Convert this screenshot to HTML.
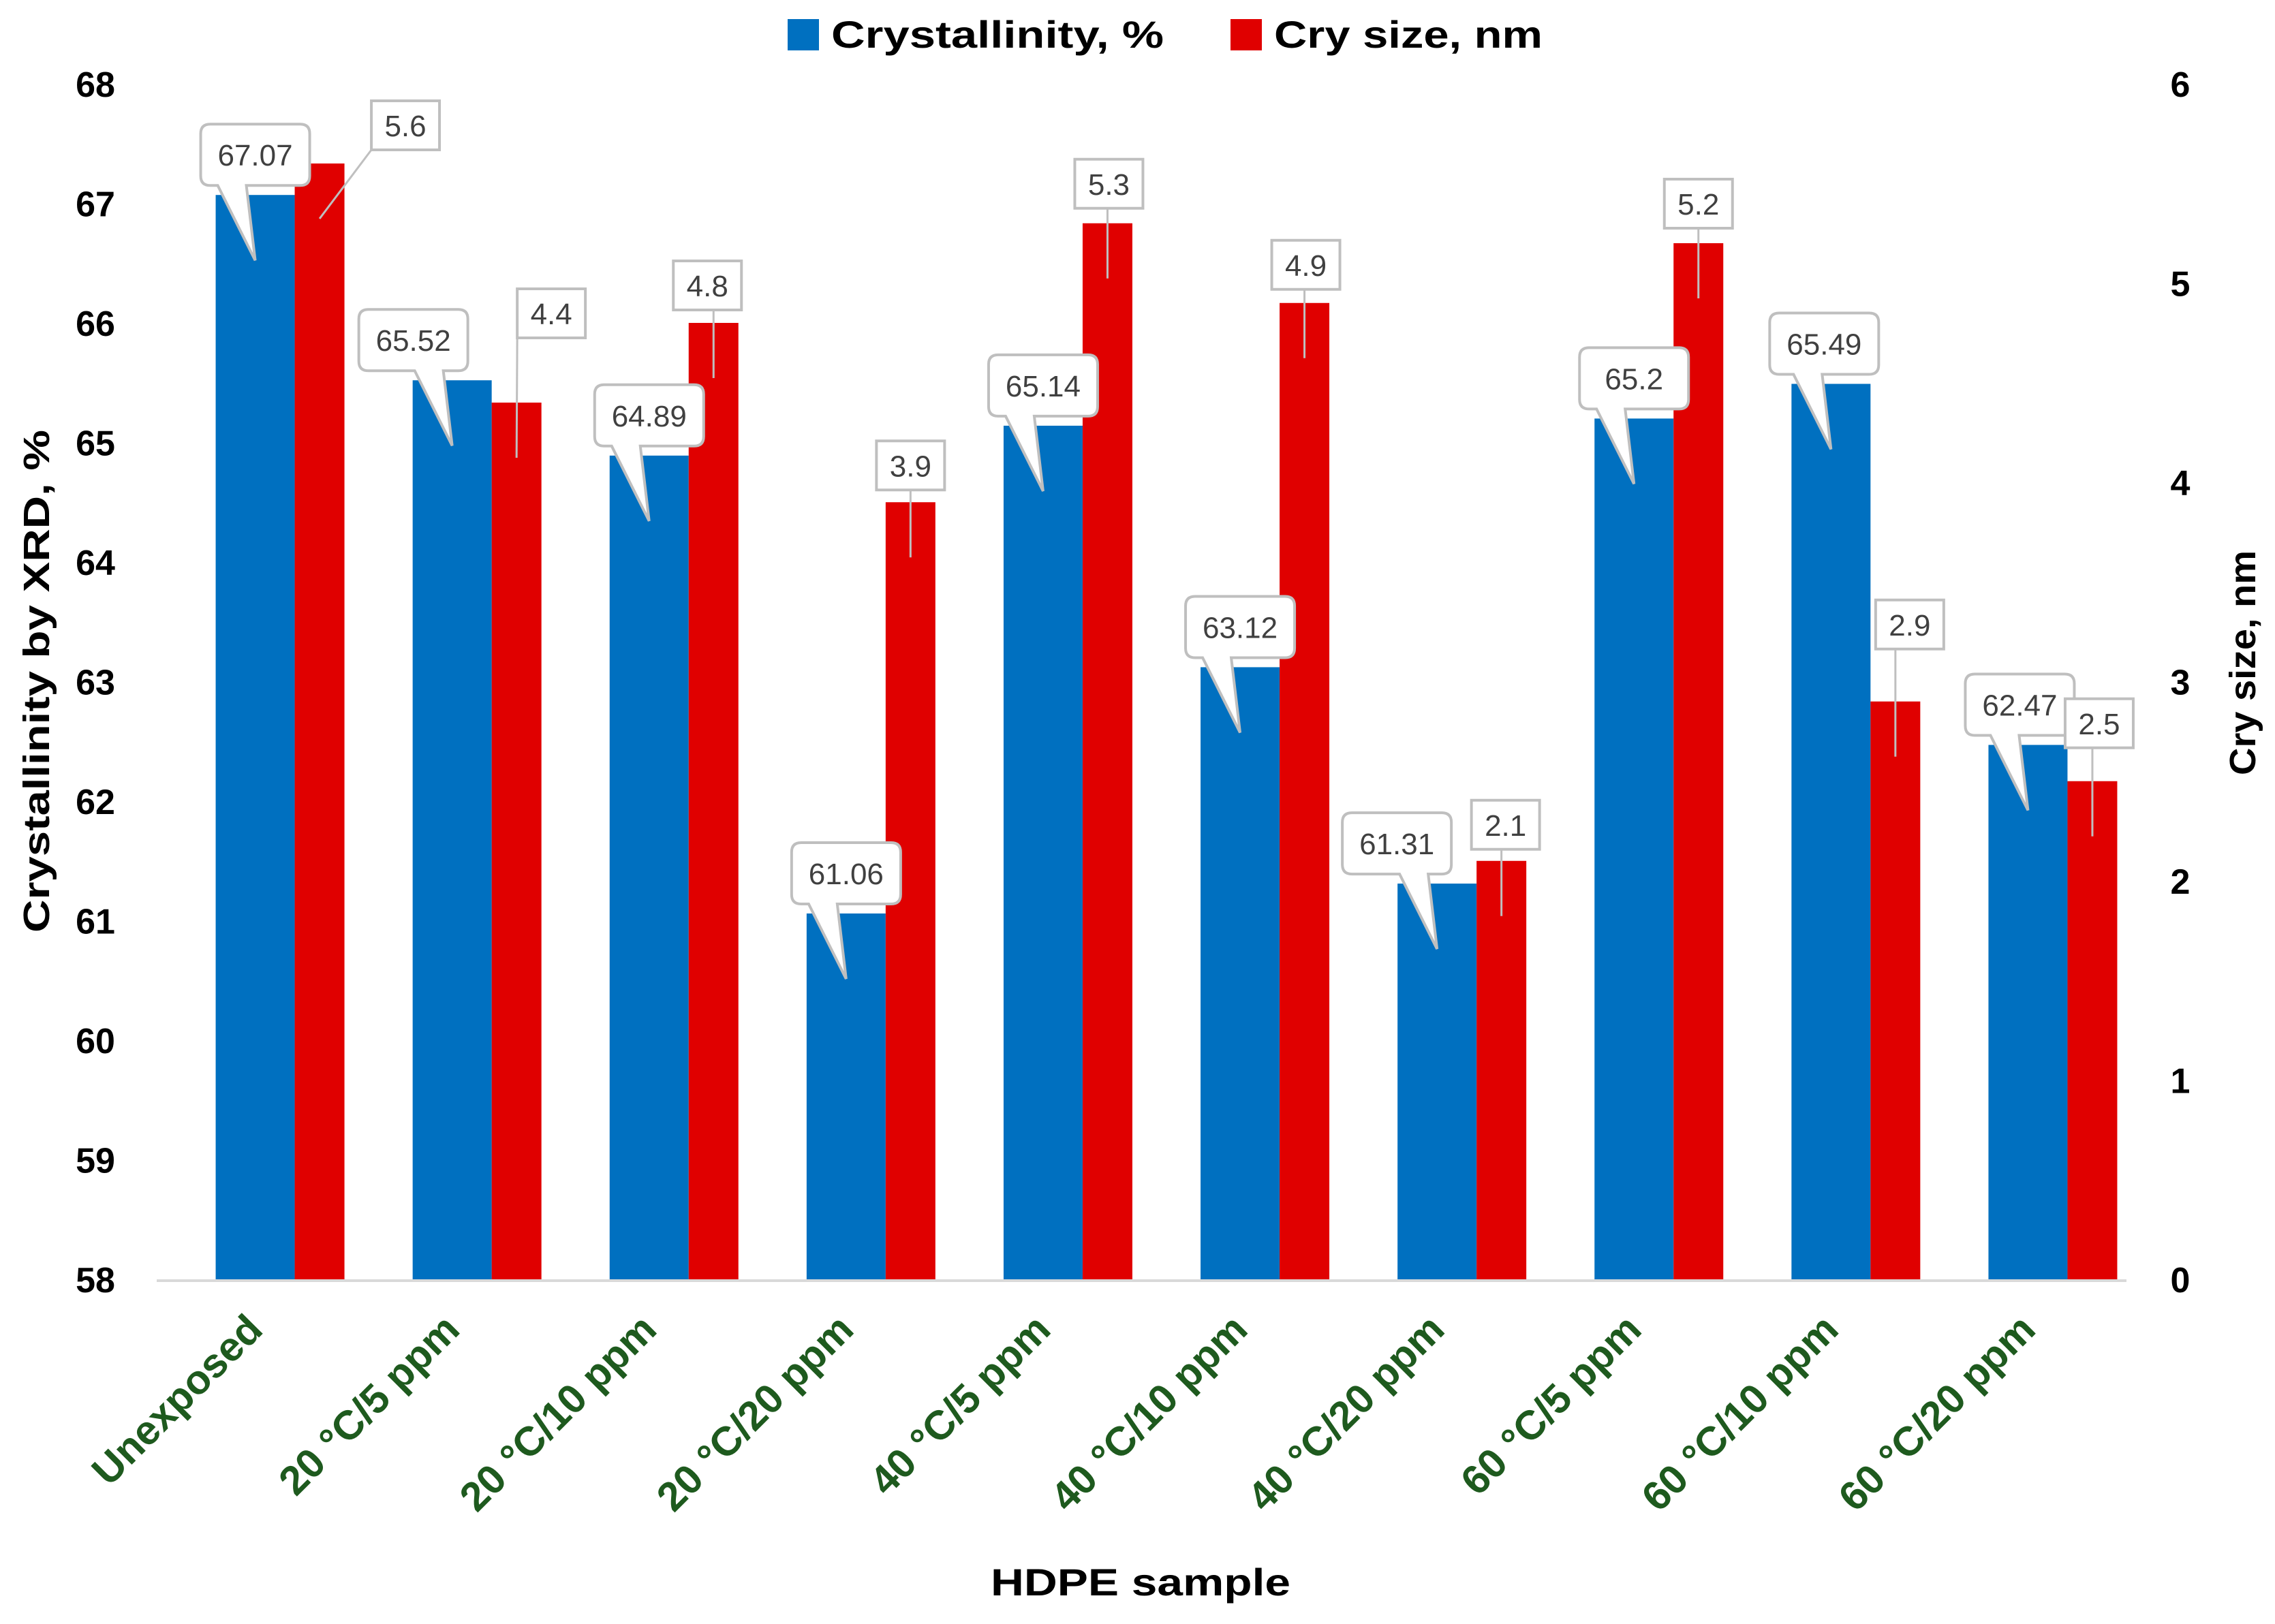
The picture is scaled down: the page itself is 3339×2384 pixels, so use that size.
<!DOCTYPE html>
<html><head><meta charset="utf-8"><style>
html,body{margin:0;padding:0;background:#fff;}
svg{display:block;font-family:"Liberation Sans",sans-serif;}
</style></head><body>
<svg id="chart" width="3339" height="2384" viewBox="0 0 3339 2384" xmlns="http://www.w3.org/2000/svg">
<g id="legend">
<rect x="1156" y="28" width="46" height="46" fill="#0070C0"/>
<text x="1220" y="70" font-size="56" font-weight="bold" textLength="488" lengthAdjust="spacingAndGlyphs">Crystallinity, %</text>
<rect x="1806" y="28" width="46" height="46" fill="#E00000"/>
<text x="1870" y="70" font-size="56" font-weight="bold" textLength="394" lengthAdjust="spacingAndGlyphs">Cry size, nm</text>
</g>
<text transform="translate(72,1000) rotate(-90)" text-anchor="middle" font-size="54" font-weight="bold" textLength="738" lengthAdjust="spacingAndGlyphs">Crystallinity by XRD, %</text>
<text transform="translate(3310,973) rotate(-90)" text-anchor="middle" font-size="54" font-weight="bold" textLength="330" lengthAdjust="spacingAndGlyphs">Cry size, nm</text>
<text x="1674" y="2342" text-anchor="middle" font-size="56" font-weight="bold" textLength="440" lengthAdjust="spacingAndGlyphs">HDPE sample</text>
<g id="plot"></g>
</svg>
<script>
const categories = ["Unexposed","20 °C/5 ppm","20 °C/10 ppm","20 °C/20 ppm","40 °C/5 ppm","40 °C/10 ppm","40 °C/20 ppm","60 °C/5 ppm","60 °C/10 ppm","60 °C/20 ppm"];
const crystallinity = [67.07,65.52,64.89,61.06,65.14,63.12,61.31,65.2,65.49,62.47];
const crySize = [5.6,4.4,4.8,3.9,5.3,4.9,2.1,5.2,2.9,2.5];
const leftTicks = [58,59,60,61,62,63,64,65,66,67,68];
const rightTicks = [0,1,2,3,4,5,6];
// label offsets (layout, not data)
const blueDx = [0,-57,0,0,0,0,-59,0,-10,-12];
const redDx = [126,51,-9,0,2,2,6,0,21,10];
const redDy = [56,131,55,54,58,56,53,58,113,85];

const NS = "http://www.w3.org/2000/svg";
const plot = document.getElementById('plot');
const X0 = 230, X1 = 3121, YB = 1878, YT = 123;
const step = (X1 - X0) / categories.length;
function yL(v){ return YB - (v - 58) / (68 - 58) * (YB - YT); }
function yR(v){ return YB - v / 6 * (YB - YT); }
function xC(i){ return X0 + step * (i + 0.5); }
function mk(tag, attrs){ const e = document.createElementNS(NS, tag); for (const k in attrs) e.setAttribute(k, attrs[k]); plot.appendChild(e); return e; }

leftTicks.forEach(t => {
  const e = mk('text', {x:140, y:yL(t)+19, 'text-anchor':'middle', 'font-size':52, 'font-weight':'bold'});
  e.textContent = t;
  
  
});
rightTicks.forEach(t => {
  const e = mk('text', {x:3200, y:yR(t)+19, 'text-anchor':'middle', 'font-size':52, 'font-weight':'bold'});
  e.textContent = t;
  
  
});

categories.forEach((c, i) => {
  const cx = xC(i);
  const bt = yL(crystallinity[i]);
  const b = mk('rect', {x:cx-58, y:bt, width:116, height:YB-bt, fill:'#0070C0'});
  
  
  const rt = yR(crySize[i]);
  const r = mk('rect', {x:cx+58, y:rt, width:73, height:YB-rt, fill:'#E00000'});
  
  
  const t = mk('text', {transform:`translate(${cx+14},1955) rotate(-45)`, 'text-anchor':'end', 'font-size':60, 'font-weight':'bold', fill:'#1E5A1E'});
  t.textContent = c;
  
  
});

const axis = mk('line', {x1:X0, y1:YB+2, x2:X1, y2:YB+2, stroke:'#D9D9D9', 'stroke-width':4});



categories.forEach((c, i) => {
  const bx = xC(i), bt = yL(crystallinity[i]);
  const bcx = bx + blueDx[i], bBot = bt - 14, w = 160, h = 90;
  const tipX = bx, tipY = bt + 96;
  const g = mk('g', {});
  
  
  const bl = Math.max(bcx - w/2 + 14, Math.min(tipX - 55, bcx + w/2 - 56));
  const d = `M${bcx-w/2+14},${bBot-h} H${bcx+w/2-14} Q${bcx+w/2},${bBot-h} ${bcx+w/2},${bBot-h+14} V${bBot-14} Q${bcx+w/2},${bBot} ${bcx+w/2-14},${bBot} H${bl+42} L${tipX},${tipY} L${bl},${bBot} H${bcx-w/2+14} Q${bcx-w/2},${bBot} ${bcx-w/2},${bBot-14} V${bBot-h+14} Q${bcx-w/2},${bBot-h} ${bcx-w/2+14},${bBot-h} Z`;
  const p = document.createElementNS(NS,'path');
  p.setAttribute('d', d); p.setAttribute('fill','#fff'); p.setAttribute('stroke','#BFBFBF'); p.setAttribute('stroke-width','4');
  g.appendChild(p);
  const tx = document.createElementNS(NS,'text');
  tx.setAttribute('x', bcx); tx.setAttribute('y', bBot - h/2 + 16); tx.setAttribute('text-anchor','middle');
  tx.setAttribute('font-size','44'); tx.setAttribute('fill','#404040');
  tx.textContent = crystallinity[i].toString();
  g.appendChild(tx);

  const rx = xC(i) + 94.5, rt = yR(crySize[i]);
  const rcx = rx + redDx[i], rcy = rt - redDy[i], rw = 100, rh = 72;
  const g2 = mk('g', {});
  
  
  const ln = document.createElementNS(NS,'line');
  ln.setAttribute('x1', Math.min(Math.max(rx, rcx - rw/2), rcx + rw/2)); ln.setAttribute('y1', rcy + rh/2);
  ln.setAttribute('x2', rx); ln.setAttribute('y2', rt + 81);
  ln.setAttribute('stroke','#BFBFBF'); ln.setAttribute('stroke-width','3');
  g2.appendChild(ln);
  const rb = document.createElementNS(NS,'rect');
  rb.setAttribute('x', rcx - rw/2); rb.setAttribute('y', rcy - rh/2); rb.setAttribute('width', rw); rb.setAttribute('height', rh);
  rb.setAttribute('fill','#fff'); rb.setAttribute('stroke','#BFBFBF'); rb.setAttribute('stroke-width','4');
  g2.appendChild(rb);
  const t2 = document.createElementNS(NS,'text');
  t2.setAttribute('x', rcx); t2.setAttribute('y', rcy + 16); t2.setAttribute('text-anchor','middle');
  t2.setAttribute('font-size','44'); t2.setAttribute('fill','#404040');
  t2.textContent = crySize[i].toString();
  g2.appendChild(t2);
});
</script>
</body></html>
